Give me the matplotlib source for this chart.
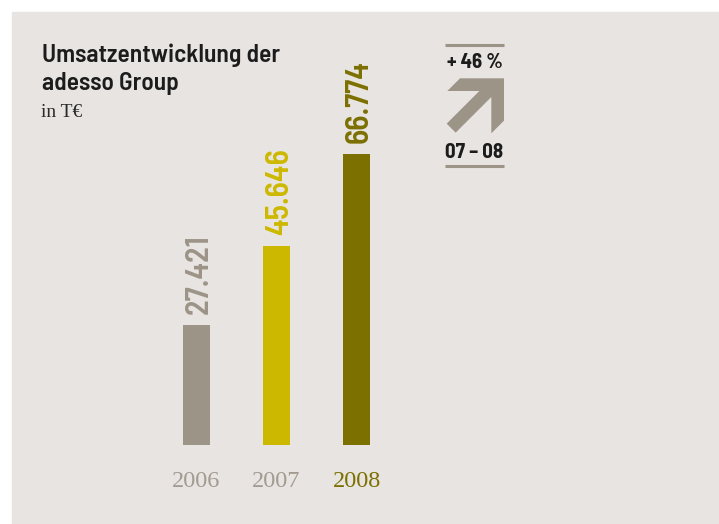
import matplotlib.pyplot as plt
from matplotlib.patches import Rectangle, Polygon

years = ["2006", "2007", "2008"]
revenue = [27421, 45646, 66774]
value_labels = ["27.421", "45.646", "66.774"]
bar_colors = ["#9d9488", "#cdb800", "#7b7000"]
year_colors = ["#a39b91", "#a39b91", "#7b7000"]

bg = "#e8e4e1"
semi = ["Barlow Semi Condensed", "Roboto Condensed", "DejaVu Sans"]
serif = ["Liberation Serif", "DejaVu Serif"]

W, H = 719, 524
fig = plt.figure(figsize=(W / 100, H / 100), dpi=100)
fig.patch.set_facecolor("white")

# overlay in pixel coordinates (origin top-left)
ov = fig.add_axes([0, 0, 1, 1])
ov.set_xlim(0, W)
ov.set_ylim(H, 0)
ov.axis("off")
ov.add_patch(Rectangle((12, 12), W - 12, H - 12, color=bg, zorder=0))

# bars
ax = fig.add_axes([156.5 / W, 79 / H, 240 / W, 400 / H])
ax.set_xlim(-0.5, 2.5)
ax.set_ylim(0, 400 / 4.36 * 1000)
ax.axis("off")
x = range(len(years))
ax.bar(x, revenue, width=27 / 80, color=bar_colors, zorder=2)
for i, v in enumerate(revenue):
    ax.annotate(value_labels[i], (i, v), xytext=(2, 8), textcoords="offset points",
                rotation=90, ha="center", va="bottom", fontsize=23,
                fontweight="semibold", family=semi, color=bar_colors[i])
    ax.annotate(years[i], (i, 0), xytext=(0, -19), textcoords="offset points",
                ha="center", va="top", fontsize=17.5, family=serif,
                color=year_colors[i])

# title
ov.text(42, 62, "Umsatzentwicklung der", fontsize=18.3, fontweight="semibold",
        family=semi, color="#1c1c1c", va="baseline")
ov.text(42, 90, "adesso Group", fontsize=18.3, fontweight="semibold",
        family=semi, color="#1c1c1c", va="baseline")
ov.text(41, 117, "in T€", fontsize=14, family=serif, color="#2a2a2a",
        va="baseline")

# growth badge
growth = round((revenue[2] / revenue[1] - 1) * 100)
ov.plot([445, 504], [45, 45], color="#9d9488", lw=2.2, solid_capstyle="butt")
ov.plot([445, 504], [166, 166], color="#9d9488", lw=2.2, solid_capstyle="butt")
ov.text(474.5, 68, f"+ {growth} %", fontsize=15, fontweight="bold",
        family=semi, color="#1c1c1c", ha="center", va="baseline")
ov.text(474.5, 157.5, "07 – 08", fontsize=15, fontweight="bold",
        family=semi, color="#1c1c1c", ha="center", va="baseline")

arrow = [(192, 25), (60, 25), (22, 63), (118, 63), (20, 161), (47, 188),
         (154, 81), (154, 190), (192, 152)]
ov.add_patch(Polygon([(440 + a / 3, 70 + b / 3) for a, b in arrow],
                     closed=True, color="#9d9488", lw=0))

fig.savefig("out.png", dpi=100, facecolor="white")
